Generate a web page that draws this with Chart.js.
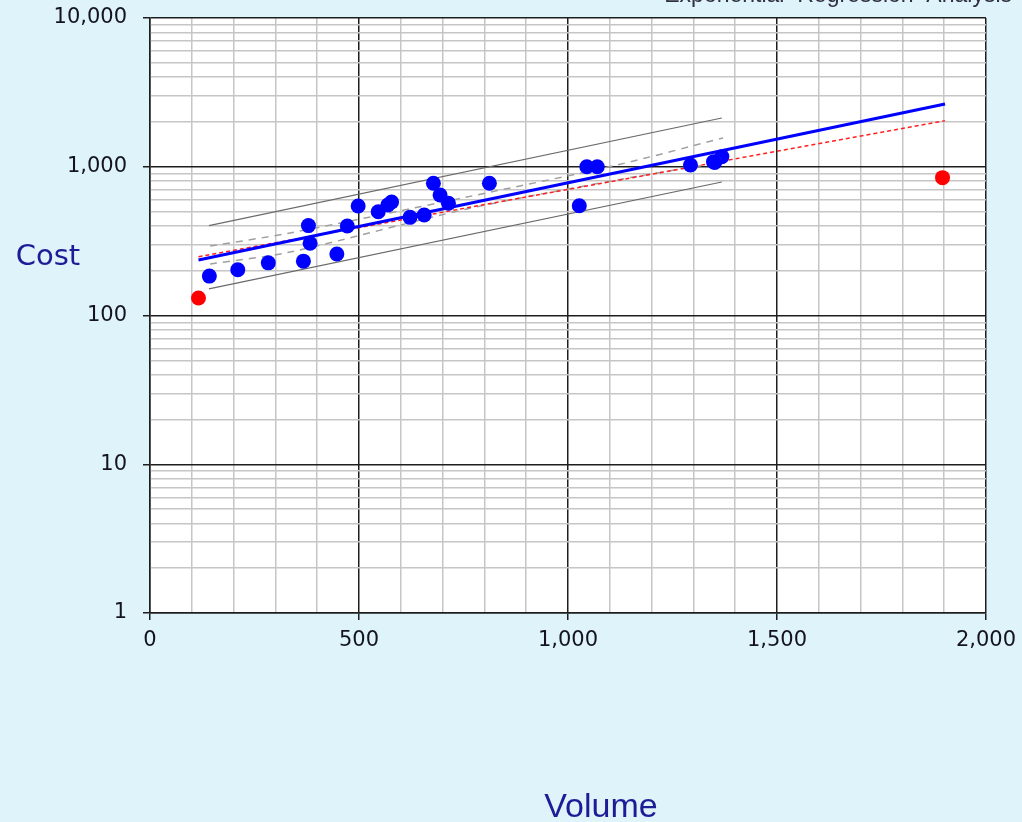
<!DOCTYPE html>
<html>
<head>
<meta charset="utf-8">
<script src="https://cdn.jsdelivr.net/npm/chart.js@4/dist/chart.umd.min.js"></script>
<style>
  html, body { margin: 0; padding: 0; background: #dff3fb; }
  #wrap { width: 1022px; height: 822px; position: relative; }
</style>
</head>
<body>
<div id="wrap"><canvas id="c"></canvas></div>
<script>
// ---- Data ----
const volume = [142, 210, 283, 367, 379, 383, 447, 472, 498, 546, 569, 578, 622, 656, 678, 694, 714, 812, 1027, 1045, 1070, 1293, 1348, 1351, 1368];
const cost   = [184, 203, 226, 232, 402, 306, 259, 400, 545, 498, 553, 580, 457, 474, 774, 646, 568, 774, 547, 1000, 1000, 1027, 1081, 1068, 1169];

const outlierVolume = [116, 1896];
const outlierCost   = [131, 845];

const fitVolume = [116, 1902];
const fitCost   = [236, 2642];

const altFitVolume = [116, 1902];
const altFitCost   = [248, 2042];

const predVolume = [141, 1368];
const predUpper  = [402, 2128];
const predLower  = [151, 790];

const confVolume = [144, 335, 758, 1117, 1371];
const confUpper  = [293, 359, 626, 1028, 1560];
const confLower  = [222, 267, 520, 815, 1076];

const xTicks = [0, 100, 200, 300, 400, 500, 600, 700, 800, 900, 1000, 1100, 1200, 1300, 1400, 1500, 1600, 1700, 1800, 1900, 2000];
const xLabelTicks = [0, 500, 1000, 1500, 2000];
const yTicks = [1,2,3,4,5,6,7,8,9,10,20,30,40,50,60,70,80,90,100,200,300,400,500,600,700,800,900,1000,2000,3000,4000,5000,6000,7000,8000,9000,10000];
const yLabelTicks = [1, 10, 100, 1000, 10000];

const chartTitle = 'Exponential  Regression  Analysis';
const xTitle = 'Volume';
const yTitle = 'Cost';

// ---- helpers ----
const pts = (xs, ys) => xs.map((x, i) => ({ x: x, y: ys[i] }));
const fmt = v => v.toLocaleString('en-US');

const MAJOR = '#1e1e1e';
const MINOR = '#c6c6c6';

const decor = {
  id: 'decor',
  beforeDraw(chart) {
    const { ctx, chartArea: a } = chart;
    ctx.save();
    ctx.fillStyle = '#dff3fb';
    ctx.fillRect(0, 0, chart.width, chart.height);
    ctx.fillStyle = '#ffffff';
    ctx.fillRect(a.left, a.top, a.right - a.left, a.bottom - a.top);
    ctx.restore();
  },
  afterDraw(chart) {
    const { ctx } = chart;
    ctx.save();
    ctx.fillStyle = '#1c1c96';
    ctx.textAlign = 'center';
    ctx.textBaseline = 'alphabetic';
    ctx.font = '29px "DejaVu Sans"';
    ctx.fillText(yTitle, 48, 265);
    ctx.font = '34px "Liberation Sans"';
    ctx.fillText(xTitle, 601, 817);
    ctx.fillStyle = '#303040';
    ctx.textAlign = 'right';
    ctx.font = '23px "Liberation Sans"';
    ctx.fillText(chartTitle, 1012, 2);
    ctx.restore();
  }
};

new Chart(document.getElementById('c'), {
  type: 'scatter',
  data: {
    datasets: [
      { label: 'Data', data: pts(volume, cost), backgroundColor: '#0000ff', borderWidth: 0, pointRadius: 7.5, showLine: false },
      { label: 'Outliers', data: pts(outlierVolume, outlierCost), backgroundColor: '#ff0000', borderWidth: 0, pointRadius: 7.5, showLine: false },
      { label: 'Fit', data: pts(fitVolume, fitCost), showLine: true, borderColor: '#0000ff', borderWidth: 3, pointRadius: 0, fill: false },
      { label: 'Fit 2', data: pts(altFitVolume, altFitCost), showLine: true, borderColor: '#ff2020', borderWidth: 1.5, borderDash: [4, 3], pointRadius: 0, fill: false },
      { label: 'Pred upper', data: pts(predVolume, predUpper), showLine: true, borderColor: '#6a6a6a', borderWidth: 1.2, pointRadius: 0, fill: false },
      { label: 'Pred lower', data: pts(predVolume, predLower), showLine: true, borderColor: '#6a6a6a', borderWidth: 1.2, pointRadius: 0, fill: false },
      { label: 'Conf upper', data: pts(confVolume, confUpper), showLine: true, borderColor: '#a0a0a0', borderWidth: 1.5, borderDash: [7, 6], pointRadius: 0, fill: false, tension: 0.3 },
      { label: 'Conf lower', data: pts(confVolume, confLower), showLine: true, borderColor: '#a0a0a0', borderWidth: 1.5, borderDash: [7, 6], pointRadius: 0, fill: false, tension: 0.3 }
    ]
  },
  options: {
    responsive: true,
    maintainAspectRatio: false,
    animation: false,
    layout: { padding: { top: 18, right: 36, left: 0, bottom: 0 } },
    plugins: { legend: { display: false }, tooltip: { enabled: false }, title: { display: false } },
    scales: {
      x: {
        type: 'linear', min: 0, max: 2000,
        afterBuildTicks: s => { s.ticks = xTicks.map(v => ({ value: v })); },
        afterFit: s => { s.height = 209; s.paddingLeft = 0; s.paddingRight = 0; },
        ticks: {
          autoSkip: false, maxRotation: 0, padding: 8,
          color: '#141420', font: { family: 'DejaVu Sans', size: 21 },
          callback: v => xLabelTicks.includes(v) ? fmt(v) : ''
        },
        grid: {
          color: c => (c.tick && xLabelTicks.includes(c.tick.value)) ? MAJOR : MINOR,
          lineWidth: 1.5,
          tickColor: c => (c.tick && xLabelTicks.includes(c.tick.value)) ? MAJOR : 'rgba(0,0,0,0)',
          tickLength: 7, drawTicks: true
        },
        border: { display: true, color: MAJOR, width: 1.5 }
      },
      y: {
        type: 'logarithmic', min: 1, max: 10000,
        afterBuildTicks: s => { s.ticks = yTicks.map(v => ({ value: v, major: yLabelTicks.includes(v) })); },
        afterFit: s => { s.width = 150; s.paddingTop = 0; s.paddingBottom = 0; },
        ticks: {
          autoSkip: false, padding: 16,
          color: '#141420', font: { family: 'DejaVu Sans', size: 21 },
          callback: v => yLabelTicks.includes(v) ? fmt(v) : ''
        },
        grid: {
          color: c => (c.tick && yLabelTicks.includes(c.tick.value)) ? MAJOR : MINOR,
          lineWidth: 1.5,
          tickColor: c => (c.tick && yLabelTicks.includes(c.tick.value)) ? MAJOR : 'rgba(0,0,0,0)',
          tickLength: 7, drawTicks: true
        },
        border: { display: true, color: MAJOR, width: 1.5 }
      }
    }
  },
  plugins: [decor]
});
</script>
</body>
</html>
